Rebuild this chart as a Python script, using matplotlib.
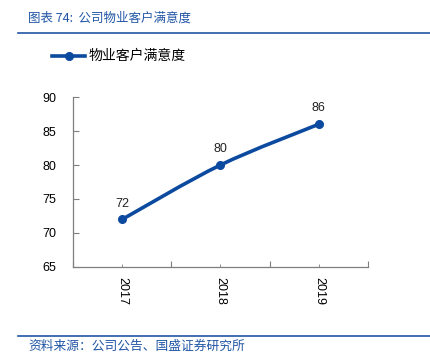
import numpy as np
import matplotlib
matplotlib.use("Agg")
import matplotlib.pyplot as plt
from matplotlib.path import Path
from matplotlib.patches import PathPatch
from matplotlib.lines import Line2D

plt.rcParams['font.family'] = ['Liberation Sans', 'Noto Sans CJK SC', 'DejaVu Sans']

# Data
years = ["2017", "2018", "2019"]
satisfaction = [72, 80, 86]
series_name = "物业客户满意度"
title = "图表 74:  公司物业客户满意度"
source = "资料来源：公司公告、国盛证券研究所"

line_color = "#0B4A9E"
head_color = "#2156A5"

fig = plt.figure(figsize=(4.31, 3.64), dpi=100)
ax = fig.add_axes([0.1694, 0.2665, 0.6844, 0.467])

x = np.arange(len(years))
y = np.array(satisfaction, dtype=float)

# Smoothed line (Catmull-Rom as cubic Bezier segments)
verts = [(x[0], y[0])]
codes = [Path.MOVETO]
px = np.concatenate([[x[0]], x, [x[-1]]])
py = np.concatenate([[y[0]], y, [y[-1]]])
for i in range(1, len(px) - 2):
    c1 = (px[i] + (px[i + 1] - px[i - 1]) / 6, py[i] + (py[i + 1] - py[i - 1]) / 6)
    c2 = (px[i + 1] - (px[i + 2] - px[i]) / 6, py[i + 1] - (py[i + 2] - py[i]) / 6)
    verts += [c1, c2, (px[i + 1], py[i + 1])]
    codes += [Path.CURVE4, Path.CURVE4, Path.CURVE4]
ax.add_patch(PathPatch(Path(verts, codes), facecolor="none", edgecolor=line_color,
                       lw=2.6, capstyle="round", zorder=2))
ax.plot(x, y, "o", color=line_color, ms=5.5, zorder=3)

for xi, yi in zip(x, y):
    ax.annotate(f"{yi:.0f}", (xi, yi), xytext=(0, 7), textcoords="offset points",
                ha="center", va="bottom", fontsize=9, color="#222222")

ax.set_xlim(-0.5, len(years) - 0.5)
ax.set_ylim(65, 90)
ax.set_yticks(np.arange(65, 91, 5))
ax.set_xticks(np.arange(len(years) + 1) - 0.5)
ax.set_xticklabels([])
ax.set_xticks(x, minor=True)
ax.set_xticklabels(years, minor=True, rotation=-90, fontsize=9)

for s in ["top", "right"]:
    ax.spines[s].set_visible(False)
for s in ["left", "bottom"]:
    ax.spines[s].set_color("#7F7F7F")
    ax.spines[s].set_linewidth(0.9)
ax.tick_params(axis="y", direction="in", length=4, color="#7F7F7F", labelsize=9, pad=12)
ax.tick_params(axis="x", which="major", direction="in", length=4, color="#7F7F7F")
ax.tick_params(axis="x", which="minor", direction="in", length=2.5, color="#7F7F7F", pad=7)

# Legend
handle = Line2D([], [], color=line_color, lw=2.6, marker="o", ms=5.5)
fig.legend([handle], [series_name], loc="center left", bbox_to_anchor=(0.092, 0.845),
           frameon=False, handlelength=2.4, handletextpad=0.25,
           prop={"family": ["Noto Sans CJK SC"], "size": 10})

# Header and footer
fig.text(0.065, 0.95, title, fontsize=9, color=head_color, style="italic",
         va="center", ha="left", family=["Noto Sans CJK SC", "DejaVu Sans"])
fig.add_artist(Line2D([0.042, 0.998], [0.909, 0.909], color=head_color, lw=1.2))
fig.add_artist(Line2D([0.042, 0.998], [0.077, 0.077], color=head_color, lw=1.2))
fig.text(0.065, 0.05, source, fontsize=9.2, color=head_color, style="italic",
         va="center", ha="left", family=["Noto Sans CJK SC", "DejaVu Sans"])

fig.savefig("out.png", dpi=100)
